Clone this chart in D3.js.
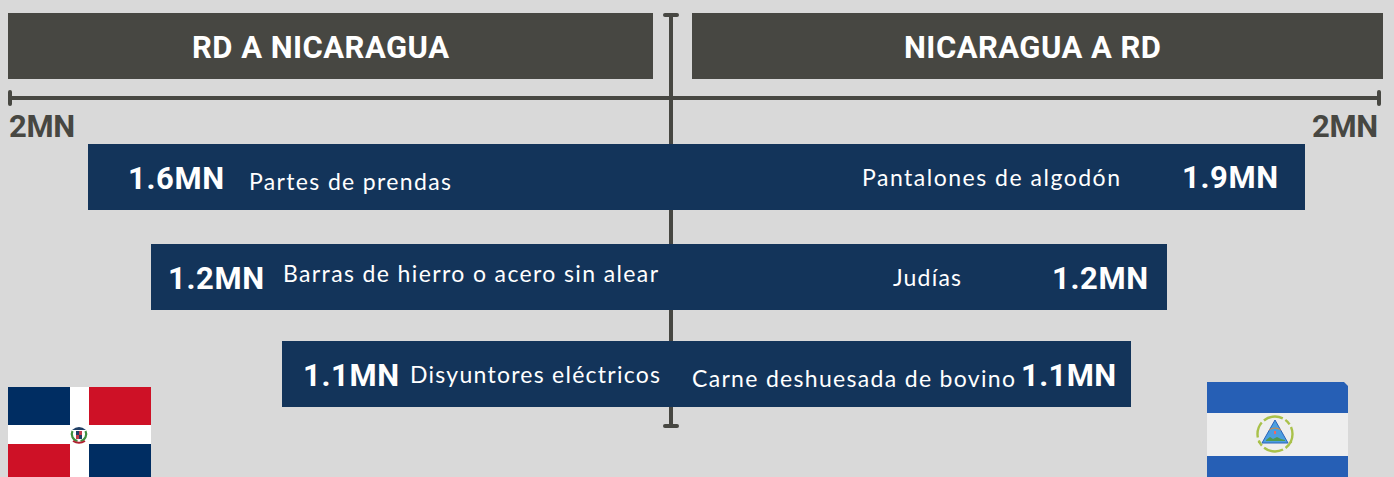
<!DOCTYPE html>
<html><head><meta charset="utf-8">
<script src="https://cdnjs.cloudflare.com/ajax/libs/d3/7.8.5/d3.min.js"></script>
<style>html,body{margin:0;padding:0;background:#d9d9d9;overflow:hidden}svg{display:block}text{font-family:"Lato",sans-serif}text.b{font-family:"Roboto",sans-serif}</style>
</head><body><svg id="c" width="1394" height="477"></svg>
<script>
const headers = ["RD A NICARAGUA", "NICARAGUA A RD"];
const axisLabels = ["2MN", "2MN"];
const axisMax = 2;
const leftValues = [1.764, 1.573, 1.177];
const rightValues = [1.791, 1.401, 1.299];
const leftValueLabels = ["1.6MN", "1.2MN", "1.1MN"];
const rightValueLabels = ["1.9MN", "1.2MN", "1.1MN"];
const leftProducts = ["Partes de prendas", "Barras de hierro o acero sin alear", "Disyuntores eléctricos"];
const rightProducts = ["Pantalones de algodón", "Judías", "Carne deshuesada de bovino"];

// layout
const cx = 671, rowTops = [144, 244, 341], barH = 66;
const leftVal = [[128,96,189],[168,96,289],[303,96,386]];
const rightVal = [[1182,96,188],[1052,96,289],[1021,95,386]];
const leftProd = [[249,202,190],[283,375,282],[410,250,383]];
const rightProd = [[862,258,186],[893,68,286],[692,323,387]];

const svg = d3.select("#c");
const xL = d3.scaleLinear().domain([0, axisMax]).range([cx, 10]);
const xR = d3.scaleLinear().domain([0, axisMax]).range([cx, 1379]);
const dark = "#474742", navy = "#13345a";

// headers
[[8,653],[692,1383]].forEach(([a,b],i)=>{
  svg.append("rect").attr("x",a).attr("y",13).attr("width",b-a).attr("height",66).attr("fill",dark);
});
[[192,257],[904,257]].forEach(([x,w],i)=>{
  svg.append("text").attr("class","b").attr("x",x).attr("y",58).attr("textLength",w).attr("lengthAdjust","spacing")
    .attr("font-size",31).attr("font-weight",700).attr("fill","#fff").text(headers[i]);
});

// axes
const line=(x1,y1,x2,y2,w,c)=>svg.append("line").attr("x1",x1).attr("y1",y1).attr("x2",x2).attr("y2",y2)
  .attr("stroke",c||dark).attr("stroke-width",w).attr("stroke-linecap","round");
line(xL(axisMax),98,xR(axisMax),98,4);
line(xL(axisMax),92,xL(axisMax),104,4);
line(xR(axisMax),92,xR(axisMax),104,4);
line(cx,15,cx,426,4);
line(cx-6,15,cx+6,15,4);
line(cx-6,426,cx+6,426,4);
svg.append("text").attr("class","b").attr("x",9).attr("y",137).attr("textLength",66).attr("lengthAdjust","spacing")
  .attr("font-size",31).attr("font-weight",700).attr("fill",dark).text(axisLabels[0]);
svg.append("text").attr("class","b").attr("x",1312).attr("y",137).attr("textLength",66).attr("lengthAdjust","spacing")
  .attr("font-size",31).attr("font-weight",700).attr("fill",dark).text(axisLabels[1]);

// bars
svg.selectAll("rect.bar").data(leftValues).join("rect").attr("class","bar")
  .attr("x",(d)=>xL(d)).attr("y",(d,i)=>rowTops[i])
  .attr("width",(d,i)=>xR(rightValues[i])-xL(d)).attr("height",barH).attr("fill",navy)
  .attr("shape-rendering","crispEdges");

const label=(arr,pos,size,weight,cls)=>svg.append("g").selectAll("text").data(arr).join("text")
  .attr("class",cls)
  .attr("x",(d,i)=>pos[i][0]).attr("y",(d,i)=>pos[i][2])
  .attr("textLength",(d,i)=>pos[i][1]).attr("lengthAdjust","spacing")
  .attr("font-size",size).attr("font-weight",weight).attr("fill","#fff").text(d=>d);
label(leftValueLabels,leftVal,31,700,"b");
label(rightValueLabels,rightVal,31,700,"b");
label(leftProducts,leftProd,23,400,"r");
label(rightProducts,rightProd,23,400,"r");

// Dominican flag
const dr = svg.append("g");
[[8,387,143,90,"#fff"],[8,387,62,38,"#002d62"],[89,387,62,38,"#ce1126"],[8,444,62,33,"#ce1126"],[89,444,62,33,"#002d62"]]
 .forEach(r=>dr.append("rect").attr("x",r[0]).attr("y",r[1]).attr("width",r[2]).attr("height",r[3]).attr("fill",r[4]));
dr.append("path").attr("d","M72.5 431a7 7 0 0 0 5 10M85.5 431a7 7 0 0 1 -5 10").attr("fill","none").attr("stroke","#3f8f3f").attr("stroke-width",2.2);
dr.append("path").attr("d","M72 430q7-6 14 0z").attr("fill","#1f3f66");
dr.append("rect").attr("x",76).attr("y",431).attr("width",3).attr("height",4).attr("fill","#1f3f66");
dr.append("rect").attr("x",79).attr("y",431).attr("width",3).attr("height",4).attr("fill","#c23b4a");
dr.append("rect").attr("x",76).attr("y",435).attr("width",3).attr("height",4).attr("fill","#c23b4a");
dr.append("rect").attr("x",79).attr("y",435).attr("width",3).attr("height",4).attr("fill","#1f3f66");
dr.append("path").attr("d","M73 441q6 3.5 12 0").attr("fill","none").attr("stroke","#b02030").attr("stroke-width",2);

// Nicaraguan flag
const ni = svg.append("g");
ni.append("path").attr("d","M1207 382H1344L1348 386V477H1207Z").attr("fill","#265fb5");
ni.append("rect").attr("x",1207).attr("y",413).attr("width",141).attr("height",43).attr("fill","#eeeeee");
ni.append("circle").attr("cx",1275).attr("cy",434).attr("r",17.5).attr("fill","none").attr("stroke","#a9c14a")
  .attr("stroke-width",2.4).attr("stroke-dasharray","16 3 20 3 6 3");
ni.append("path").attr("d","M1275 420L1288 443H1262Z").attr("fill","#4b9fe0").attr("stroke","#2a62b8").attr("stroke-width",1);
ni.append("path").attr("d","M1266 440l4-3 3 2 4-2 4 2 4 1v1h-19z").attr("fill","#4f9a4f");
ni.append("rect").attr("x",1274).attr("y",431).attr("width",2).attr("height",3).attr("fill","#e66");
ni.append("path").attr("d","M1269 430q6-4 12 0").attr("fill","none").attr("stroke","#d98a3a").attr("stroke-width",1);
[1259,1291].forEach(x=>ni.append("circle").attr("cx",x).attr("cy",442).attr("r",1.2).attr("fill","#a9c14a"));
</script></body></html>
